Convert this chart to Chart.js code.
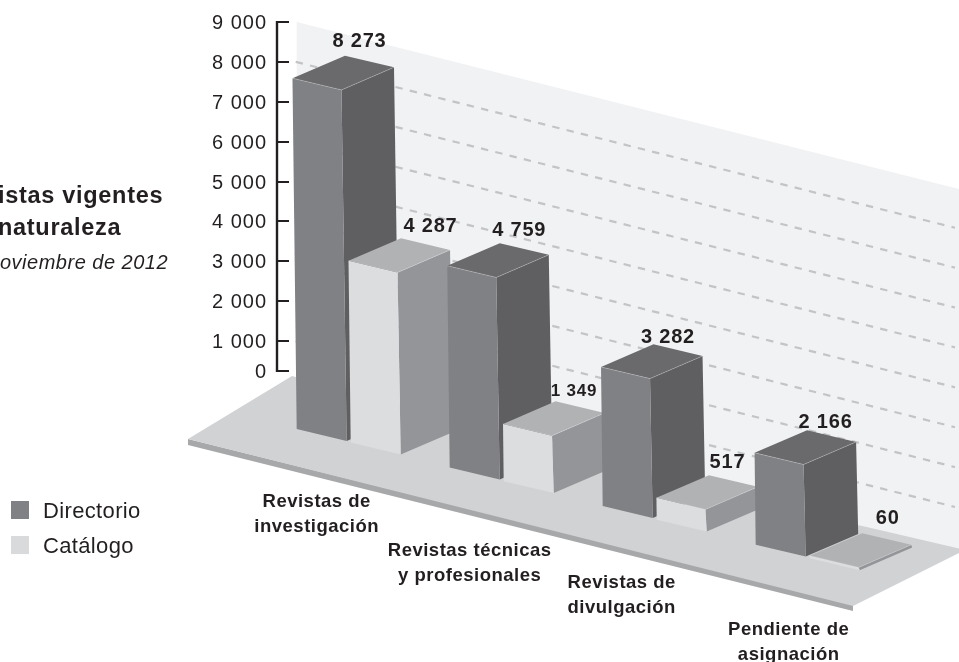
<!DOCTYPE html>
<html lang="es">
<head>
<meta charset="utf-8">
<title>Revistas vigentes</title>
<script src="https://cdn.jsdelivr.net/npm/chart.js@4"></script>
<style>
html, body { margin: 0; padding: 0; background: #fff; overflow: hidden; }
canvas { display: block; }
</style>
</head>
<body>
<canvas id="chart" width="959" height="662"></canvas>
<script>
const categories = [
    ['Revistas de', 'investigación'],
    ['Revistas técnicas', 'y profesionales'],
    ['Revistas de', 'divulgación'],
    ['Pendiente de', 'asignación']
];
const directorio = [8273, 4759, 3282, 2166];
const catalogo = [4287, 1349, 517, 60];
const yTicks = [1000, 2000, 3000, 4000, 5000, 6000, 7000, 8000, 9000];

const INK = '#231f20';
const SANS = '"Liberation Sans", Arial, sans-serif';
// the axis of the original is squeezed below 1 000: its "0" sits where 250 would be
const AXIS_FOOT = 250;

// oblique projection of the bars
const SLOPE = 0.252;       // fall of the wall and the rows, px per px
const FACE_SLOPE = 0.238;  // fall of a bar's front edge
const DEPTH_X = 52.5, DEPTH_Y = -22.6;
const LEAN = 0.012;        // bars narrow towards the top
const HEIGHT_K = 1.063;    // bars stand closer than the axis
const SHIFT_X = -16.8;     // from the category slot to the drawing
const WALL_X = 296.7;
const BASE_X = 296.7, BASE_Y = 429;

const shades = [
    { front: '#808184', side: '#5f5f61', top: '#6a6a6d', edge: 'rgba(255,255,255,0.35)' },
    { front: '#dcddde', side: '#939598', top: '#b1b2b4', edge: 'rgba(255,255,255,0.3)' }
];

// where each value label sits, from the top front corner of its bar
const directorioLabelAt = [[67, -38], [72, -36], [67, -30], [71, -31]];
const catalogoLabelAt = [[82, -35], [71, -34], [71, -36], [78, -38]];
const categoryLabelPos = [[-32, 72], [-32, 82], [-33, 76], [-19, 84]];

function fmt(v) {
    return String(v).replace(/\B(?=(\d{3})+$)/g, ' ');
}

function poly(ctx, pts, fill) {
    ctx.beginPath();
    pts.forEach((p, i) => i ? ctx.lineTo(p[0], p[1]) : ctx.moveTo(p[0], p[1]));
    ctx.closePath();
    ctx.fillStyle = fill;
    ctx.fill();
}

function text(ctx, str, x, y, font, align, spacing) {
    ctx.save();
    ctx.font = font;
    ctx.textAlign = align || 'left';
    ctx.textBaseline = 'alphabetic';
    ctx.letterSpacing = (spacing || 0) + 'px';
    ctx.fillStyle = INK;
    ctx.fillText(str, x, y);
    ctx.restore();
}

function drawStage(chart) {
    const ctx = chart.ctx;
    const y = chart.scales.y;
    const topY = y.getPixelForValue(9000);

    // back wall
    poly(ctx, [[WALL_X, topY], [959, topY + SLOPE * (959 - WALL_X)], [959, 552], [858, 525], [WALL_X, 378]], '#f1f2f4');

    // dashed rows from the axis ticks
    ctx.save();
    ctx.strokeStyle = '#c3c4c6';
    ctx.lineWidth = 2.2;
    ctx.setLineDash([7.4, 7.3]);
    yTicks.slice(0, -1).forEach(t => {
        const py = y.getPixelForValue(t);
        ctx.beginPath();
        ctx.moveTo(WALL_X - 1, py);
        ctx.lineTo(955, py + SLOPE * (955 - WALL_X));
        ctx.stroke();
    });
    ctx.restore();

    // floor
    poly(ctx, [[188, 439], [188, 445], [853, 611], [853, 604]], '#a7a8aa');
    poly(ctx, [[188, 439], [292, 376], [858, 525], [965, 550], [853, 606]], '#d1d2d4');

    // y axis spine, the ticks themselves come from the scale
    ctx.save();
    ctx.strokeStyle = INK;
    ctx.lineWidth = 2.4;
    ctx.beginPath();
    ctx.moveTo(277, topY - 1);
    ctx.lineTo(277, y.getPixelForValue(AXIS_FOOT) + 1);
    ctx.stroke();
    ctx.restore();
}

function drawBar(chart, el, value, shade, offset) {
    const ctx = chart.ctx;
    const y = chart.scales.y;
    const h = (y.getPixelForValue(0) - y.getPixelForValue(value)) * HEIGHT_K;
    const w = el.width;
    const x0 = el.x - w / 2 + SHIFT_X;
    const y0 = BASE_Y + SLOPE * (x0 - BASE_X);
    const lean = LEAN * h;
    const tw = w * 0.98;

    const fl = [x0 - lean, y0 - h];
    const fr = [x0 - lean + tw, y0 - h + FACE_SLOPE * tw];
    const bl = [x0, y0];
    const br = [x0 + w, y0 + FACE_SLOPE * w];
    const back = [fl[0] + DEPTH_X, fl[1] + DEPTH_Y];
    const rear = [fr[0] + DEPTH_X, fr[1] + DEPTH_Y];
    const rearLow = [br[0] + DEPTH_X, br[1] + DEPTH_Y];

    poly(ctx, [fr, rear, rearLow, br], shade.side);
    poly(ctx, [fl, fr, br, bl], shade.front);
    poly(ctx, [fl, back, rear, fr], shade.top);

    ctx.save();
    ctx.strokeStyle = shade.edge;
    ctx.lineWidth = 0.7;
    ctx.beginPath();
    ctx.moveTo(fl[0], fl[1]);
    ctx.lineTo(fr[0], fr[1]);
    ctx.lineTo(rear[0], rear[1]);
    ctx.stroke();
    ctx.restore();

    return { x: fl[0] + offset[0], y: fl[1] + offset[1] };
}

const stage3d = {
    id: 'stage3d',
    beforeDraw(chart) {
        // the tick labels of the original are set wide
        chart.ctx.letterSpacing = '1px';
    },
    beforeDatasetsDraw(chart) {
        chart.ctx.letterSpacing = '0px';
        drawStage(chart);

        const metaA = chart.getDatasetMeta(0).data;
        const metaB = chart.getDatasetMeta(1).data;
        const labels = [];
        categories.forEach((c, i) => {
            labels.push([directorio[i], drawBar(chart, metaA[i], directorio[i], shades[0], directorioLabelAt[i])]);
            labels.push([catalogo[i], drawBar(chart, metaB[i], catalogo[i], shades[1], catalogoLabelAt[i])]);
        });

        labels.forEach(l => {
            const small = l[0] === 1349;
            text(chart.ctx, fmt(l[0]), l[1].x, l[1].y + 6.5, 'bold ' + (small ? 17 : 20) + 'px ' + SANS, 'center', 0.8);
        });

        // category names under each group
        categories.forEach((c, i) => {
            const el = metaA[i];
            const x0 = el.x - el.width / 2 + SHIFT_X;
            const pos = categoryLabelPos[i];
            const cx = x0 + 52 + pos[0];
            const cy = BASE_Y + SLOPE * (x0 - BASE_X) + pos[1];
            c.forEach((line, k) => {
                text(chart.ctx, line, cx, cy + 6 + k * 25, 'bold 18.5px ' + SANS, 'center', 0.5);
            });
        });
    },
    afterDraw(chart) {
        const ctx = chart.ctx;
        // heading, cut by the left edge as in the original
        text(ctx, 'istas vigentes', -2, 203, 'bold 23.5px ' + SANS, 'left', 0.7);
        text(ctx, 'naturaleza', -2, 235, 'bold 23.5px ' + SANS, 'left', 0.7);
        text(ctx, 'oviembre de 2012', 0, 269, 'italic 20px ' + SANS, 'left', 0.5);

        // legend
        ctx.fillStyle = shades[0].front;
        ctx.fillRect(11, 501, 18, 18);
        ctx.fillStyle = '#d9dadc';
        ctx.fillRect(11, 536, 18, 18);
        text(ctx, 'Directorio', 43, 518, '22px ' + SANS, 'left', 0.35);
        text(ctx, 'Catálogo', 43, 553, '22px ' + SANS, 'left', 0.35);
    }
};

new Chart(document.getElementById('chart').getContext('2d'), {
    type: 'bar',
    data: {
        labels: categories,
        datasets: [
            { label: 'Directorio', data: directorio, backgroundColor: 'transparent', categoryPercentage: 0.706, barPercentage: 0.926 },
            { label: 'Catálogo', data: catalogo, backgroundColor: 'transparent', categoryPercentage: 0.706, barPercentage: 0.926 }
        ]
    },
    options: {
        responsive: false,
        animation: false,
        layout: { padding: { top: 22, right: 58, bottom: 291, left: 0 } },
        plugins: { legend: { display: false }, tooltip: { enabled: false } },
        scales: {
            x: { display: false },
            y: {
                min: AXIS_FOOT,
                max: 9000,
                afterFit: s => { s.width = 289; },
                afterBuildTicks: s => {
                    s.ticks = [AXIS_FOOT].concat(yTicks).map(v => ({ value: v }));
                },
                border: { display: false },
                grid: { drawOnChartArea: false, tickLength: 12, color: INK, lineWidth: 2 },
                ticks: {
                    padding: 10,
                    labelOffset: 1.5,
                    color: INK,
                    font: { family: SANS, size: 20 },
                    autoSkip: false,
                    callback: v => v === AXIS_FOOT ? '0' : fmt(v)
                }
            }
        }
    },
    plugins: [stage3d]
});
</script>
</body>
</html>
